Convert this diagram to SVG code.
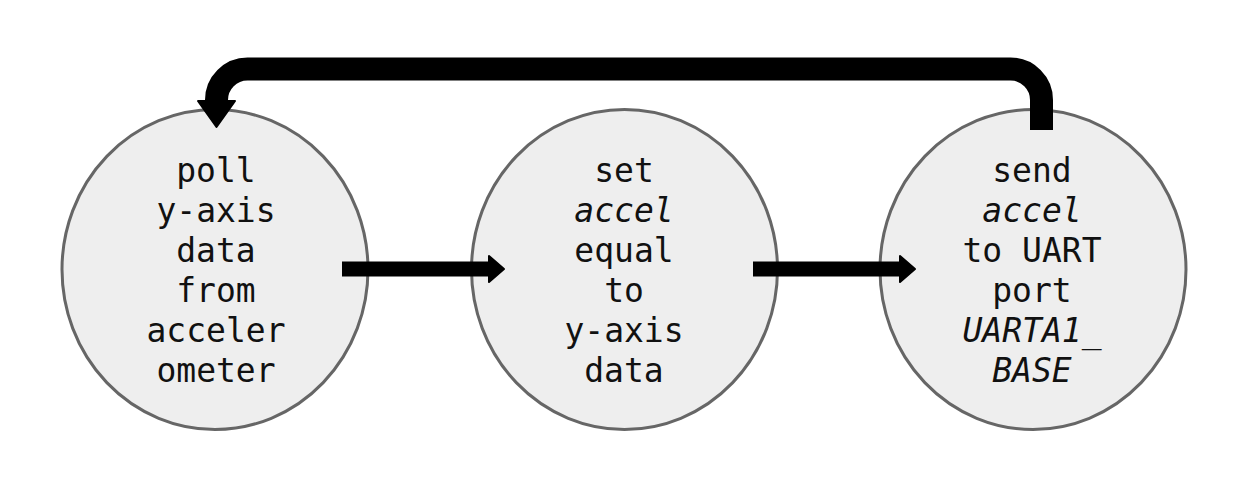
<svg xmlns="http://www.w3.org/2000/svg" width="1247" height="492" viewBox="0 0 1247 492">
<style>
.node{fill:#eeeeee;stroke:#666666;stroke-width:3}
.lbl{font-family:"DejaVu Sans Mono","Liberation Mono",monospace;font-size:33px;fill:#111111;text-anchor:middle}
.it{font-style:italic}
.conn{fill:none;stroke:#000000;stroke-linejoin:round}
.head{fill:#000000;stroke:#000000;stroke-width:2;stroke-linejoin:round}
</style>
<rect width="1247" height="492" fill="#ffffff"/>
<g id="node-poll">
<ellipse class="node" cx="215" cy="269.5" rx="153" ry="160"/>
<text class="lbl" x="216" y="182">poll</text>
<text class="lbl" x="216" y="222">y-axis</text>
<text class="lbl" x="216" y="262">data</text>
<text class="lbl" x="216" y="302">from</text>
<text class="lbl" x="216" y="342">acceler</text>
<text class="lbl" x="216" y="382">ometer</text>
</g>
<g id="node-set">
<ellipse class="node" cx="624.5" cy="269.5" rx="153" ry="160"/>
<text class="lbl" x="624" y="182">set</text>
<text class="lbl it" x="624" y="222">accel</text>
<text class="lbl" x="624" y="262">equal</text>
<text class="lbl" x="624" y="302">to</text>
<text class="lbl" x="624" y="342">y-axis</text>
<text class="lbl" x="624" y="382">data</text>
</g>
<g id="node-send">
<ellipse class="node" cx="1033" cy="269.5" rx="153" ry="160"/>
<text class="lbl" x="1032" y="182">send</text>
<text class="lbl it" x="1032" y="222">accel</text>
<text class="lbl" x="1032" y="262">to UART</text>
<text class="lbl" x="1032" y="302">port</text>
<text class="lbl it" x="1032" y="342">UARTA1_</text>
<text class="lbl it" x="1032" y="382">BASE</text>
</g>
<g id="connectors">
<path class="conn" stroke-width="15" d="M342 269 H490"/>
<polygon class="head" points="489,256 504,269 489,282"/>
<path class="conn" stroke-width="15" d="M753 269 H901"/>
<polygon class="head" points="900,256 915,269 900,282"/>
<path class="conn" stroke-width="23" d="M1041.5 130 V100 A31 31 0 0 0 1010.5 69 H247.5 A31 31 0 0 0 216.5 100 V104"/>
<polygon class="head" points="198,101 235,101 216.5,127"/>
</g>
</svg>
